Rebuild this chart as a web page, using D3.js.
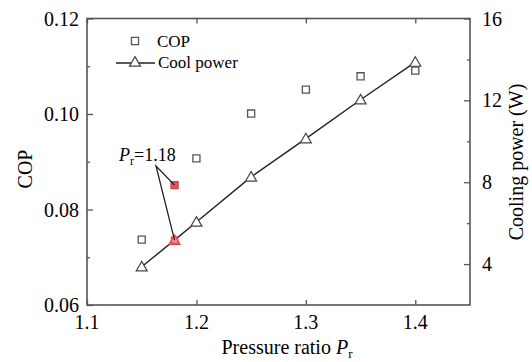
<!DOCTYPE html>
<html><head><meta charset="utf-8">
<script src="https://cdn.jsdelivr.net/npm/d3@7"></script>
</head>
<body style="margin:0">
<svg id="c" width="532" height="362"></svg>
<script>
const pressureRatio = [1.15, 1.18, 1.2, 1.25, 1.3, 1.35, 1.4];
const copValues = [0.0737, 0.0851, 0.0907, 0.1001, 0.1051, 0.1079, 0.1091];
const coolPower = [3.87, 5.17, 6.06, 8.26, 10.13, 12.03, 13.87];
const highlightRatio = 1.18;
const xTicks = [1.1, 1.2, 1.3, 1.4];
const copTicks = [0.06, 0.08, 0.10, 0.12];
const copMinor = [0.07, 0.09, 0.11];
const powerTicks = [4, 8, 12, 16];
const powerMinor = [6, 10, 14];

const FONT = '"Liberation Serif"';
const svg = d3.select("#c");
const L = 87, R = 470, T = 18.5, B = 305;
const x = d3.scaleLinear().domain([1.1, 1.45]).range([L, R]);
const yL = d3.scaleLinear().domain([0.06, 0.12]).range([B, T]);
const yR = d3.scaleLinear().domain([2, 16]).range([B, T]);
const axisCol = "#555";

svg.append("rect").attr("x", L).attr("y", T).attr("width", R - L).attr("height", B - T)
  .attr("fill", "none").attr("stroke", axisCol).attr("stroke-width", 1.6);

// tick marks via axes (labels drawn separately as plain text)
function ticksOnly(g) {
  g.attr("font-family", null).attr("font-size", null).attr("fill", null);
  g.select(".domain").remove();
  g.selectAll(".tick text").remove();
  g.selectAll(".tick line").attr("stroke", axisCol).attr("stroke-width", 1.3);
}
svg.append("g").attr("transform", `translate(0,${B})`).call(d3.axisBottom(x).tickValues(xTicks).tickSizeInner(-5)).call(ticksOnly);
svg.append("g").attr("transform", `translate(0,${T})`).call(d3.axisTop(x).tickValues(xTicks).tickSizeInner(-5)).call(ticksOnly);
svg.append("g").attr("transform", `translate(${L},0)`).call(d3.axisLeft(yL).tickValues(copTicks).tickSizeInner(-6)).call(ticksOnly);
svg.append("g").attr("transform", `translate(${L},0)`).call(d3.axisLeft(yL).tickValues(copMinor).tickSizeInner(-3)).call(ticksOnly);
svg.append("g").attr("transform", `translate(${R},0)`).call(d3.axisRight(yR).tickValues(powerTicks).tickSizeInner(-6)).call(ticksOnly);
svg.append("g").attr("transform", `translate(${R},0)`).call(d3.axisRight(yR).tickValues(powerMinor).tickSizeInner(-3)).call(ticksOnly);

function t(x0, y0, size, s) {
  return svg.append("text").attr("x", x0).attr("y", y0).attr("font-size", size)
    .style("font-family", FONT).text(s);
}
xTicks.forEach(v => t(x(v), 329, 20, d3.format(".1f")(v)).attr("text-anchor", "middle"));
copTicks.forEach(v => t(L - 8, yL(v) + 7, 20, d3.format(".2f")(v)).attr("text-anchor", "end"));
powerTicks.forEach(v => t(R + 12, yR(v) + 7, 20, d3.format("d")(v)));

const xt = t(287, 354, 20, null).attr("text-anchor", "middle");
xt.append("tspan").text("Pressure ratio ");
xt.append("tspan").attr("font-style", "italic").text("P");
xt.append("tspan").attr("font-size", 13).attr("dy", 4).text("r");
t(0, 0, 20, "COP").attr("transform", "translate(32,169) rotate(-90)").attr("x", null).attr("y", null).attr("text-anchor", "middle");
t(0, 0, 20, "Cooling  power (W)").attr("transform", "translate(523,162) rotate(-90)").attr("x", null).attr("y", null).attr("text-anchor", "middle");

const data = pressureRatio.map((p, i) => ({p, cop: copValues[i], pw: coolPower[i]}));
const sq = d3.symbol().type(d3.symbolSquare).size(50);
const tri = d3.symbol().type(d3.symbolTriangle).size(52);

svg.append("path").datum(data)
  .attr("d", d3.line().x(d => x(d.p)).y(d => yR(d.pw)))
  .attr("fill", "none").attr("stroke", "#222").attr("stroke-width", 1.4);

svg.selectAll(".sq").data(data).join("path").attr("class", "sq")
  .attr("transform", d => `translate(${x(d.p)},${yL(d.cop)})`)
  .attr("d", sq)
  .attr("fill", d => d.p === highlightRatio ? "#e8545a" : "#fff")
  .attr("stroke", d => d.p === highlightRatio ? "#c44" : "#555").attr("stroke-width", 1.3);

svg.selectAll(".tr").data(data).join("path").attr("class", "tr")
  .attr("transform", d => `translate(${x(d.p)},${yR(d.pw) + 1})`)
  .attr("d", tri)
  .attr("fill", d => d.p === highlightRatio ? "#f08a8a" : "#fff")
  .attr("stroke", d => d.p === highlightRatio ? "#d44" : "#444").attr("stroke-width", 1.2);
const hi = data.find(d => d.p === highlightRatio);
svg.append("path").attr("transform", `translate(${x(hi.p)},${yR(hi.pw)})`)
  .attr("d", d3.symbol().type(d3.symbolSquare).size(40))
  .attr("fill", "none").attr("stroke", "#e05058").attr("stroke-width", 1.2);

const ax = 156, ay = 166;
svg.append("path").attr("d", `M${x(hi.p)},${yL(hi.cop)}L${ax},${ay}L${x(hi.p)},${yR(hi.pw)}`)
  .attr("fill", "none").attr("stroke", "#222").attr("stroke-width", 1.3);
const at = t(119, 161, 18, null);
at.append("tspan").attr("font-style", "italic").text("P");
at.append("tspan").attr("font-size", 12).attr("dy", 4).text("r");
at.append("tspan").attr("dy", -4).text("=" + highlightRatio.toFixed(2));

svg.append("path").attr("transform", "translate(135,41)").attr("d", sq)
  .attr("fill", "#fff").attr("stroke", "#555").attr("stroke-width", 1.3);
t(157, 47, 17, "COP");
svg.append("line").attr("x1", 116).attr("x2", 155).attr("y1", 63).attr("y2", 63)
  .attr("stroke", "#222").attr("stroke-width", 1.4);
svg.append("path").attr("transform", "translate(135,63)").attr("d", tri)
  .attr("fill", "#fff").attr("stroke", "#444").attr("stroke-width", 1.2);
t(158, 68, 17, "Cool power");
</script>
</body></html>
